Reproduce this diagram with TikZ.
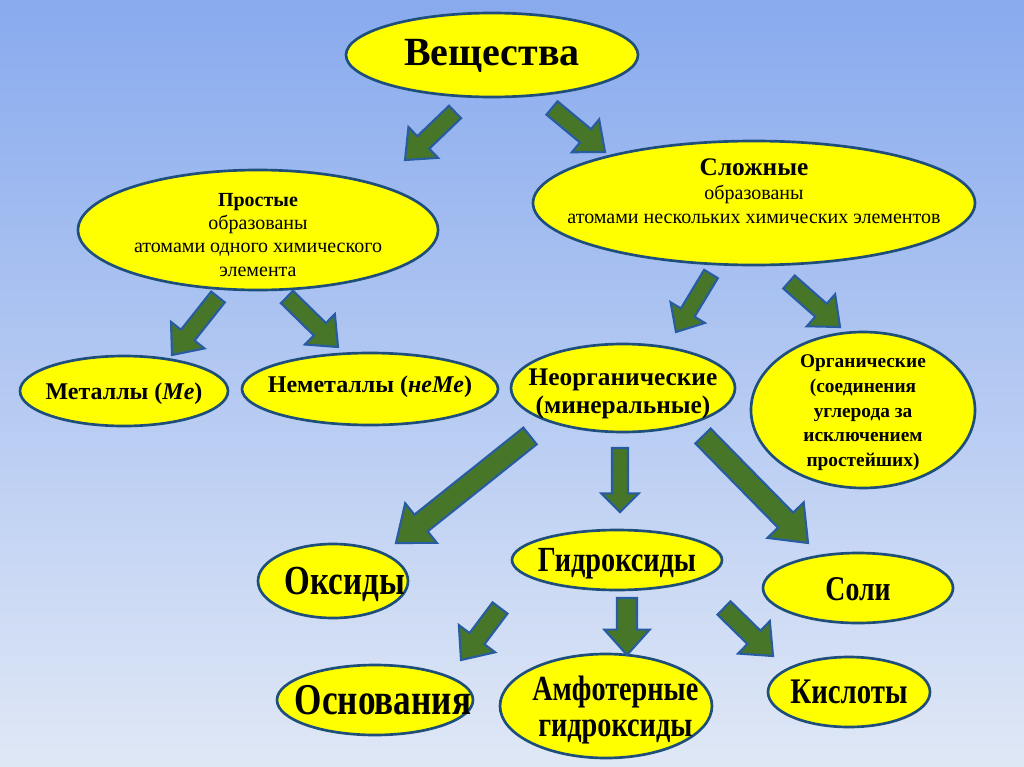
\documentclass[tikz,border=0pt]{standalone}
\usepackage{fontspec}
\setmainfont{Liberation Serif}
\newfontfamily\condfont[FakeStretch=0.8]{Liberation Serif}
\usetikzlibrary{shapes.geometric,calc}
\definecolor{bgtop}{RGB}{136,170,238}
\definecolor{bgbot}{RGB}{224,232,246}
\definecolor{elfill}{RGB}{255,255,0}
\definecolor{eldraw}{RGB}{30,78,122}
\definecolor{arfill}{RGB}{72,118,40}
\definecolor{ardraw}{RGB}{40,92,160}
\tikzset{
  el/.style 2 args={ellipse, draw=eldraw, fill=elfill, line width=2pt, inner sep=0pt,
    minimum width=#1*0.75pt, minimum height=#2*0.75pt},
  lbl/.style={align=center, text=black, inner sep=0pt, label distance=0pt},
  barrowstyle/.style={fill=arfill, draw=ardraw, line width=1.6pt, line join=miter},
}
% #1 tail, #2 tip, #3 shaft half width, #4 head half width, #5 head length (pt)
\newcommand\blockarr[5]{%
  \coordinate (ah) at ($(#2)!#5!(#1)$);
  \draw[barrowstyle] ($(#1)!#3!90:(#2)$) -- ($(ah)!#3!90:(#2)$) -- ($(ah)!#4!90:(#2)$)
     -- (#2) -- ($(ah)!#4!-90:(#2)$) -- ($(ah)!#3!-90:(#2)$) -- ($(#1)!#3!-90:(#2)$) -- cycle;
}
\begin{document}
\begin{tikzpicture}[x=0.75pt,y=-0.75pt]
\shade[top color=bgtop, bottom color=bgbot] (0,0) rectangle (1024,767);
\useasboundingbox (0,0) rectangle (1024,767);

% nodes
\node[el={292}{84}, label={[lbl, font=\fontsize{30}{34}\selectfont\bfseries, yshift=-1pt]center:{Вещества}}] (v) at (492,55) {};
\node[el={360}{120}, label={[lbl, font=\fontsize{15}{17.5}\selectfont, yshift=-3.5pt]center:{\textbf{Простые}\\образованы\\атомами одного химического\\элемента}}] (p) at (258,230) {};
\node[el={442}{124}, label={[lbl, font=\fontsize{15}{18}\selectfont, yshift=8.5pt]center:{\textbf{\fontsize{19}{20}\selectfont Сложные}\\образованы\\атомами нескольких химических элементов}}] (s) at (754,203) {};
\node[el={208}{70}, label={[lbl, font=\fontsize{18}{20}\selectfont\bfseries, yshift=-2pt]center:{Металлы (\textit{Me})}}] (m) at (124,391) {};
\node[el={256}{72}, label={[lbl, font=\fontsize{18}{20}\selectfont\bfseries, yshift=2pt]center:{Неметаллы (\textit{неMe})}}] (n) at (370,389) {};
\node[el={224}{88}, label={[lbl, font=\fontsize{19}{20.5}\selectfont\bfseries, yshift=-4.5pt]center:{Неорганические\\(минеральные)}}] (i) at (623,388) {};
\node[el={224}{156}, label={[lbl, font=\fontsize{14.5}{18.5}\selectfont\bfseries, yshift=-2pt]center:{Органические\\(соединения\\углерода за\\исключением\\простейших)}}] (o) at (863,410) {};
\node[el={150}{74}, label={[lbl, font=\condfont\fontsize{31}{33}\selectfont\bfseries, xshift=9pt, yshift=-2.5pt]center:{Оксиды}}] (ox) at (333,581) {};
\node[el={210}{60}, label={[lbl, font=\condfont\fontsize{26.5}{28}\selectfont\bfseries, yshift=-2.5pt]center:{Гидроксиды}}] (g) at (617,560) {};
\node[el={190}{70}, label={[lbl, font=\condfont\fontsize{26}{28}\selectfont\bfseries, yshift=-1pt]center:{Соли}}] (sl) at (858,588) {};
\node[el={196}{70}, label={[lbl, font=\condfont\fontsize{33}{34}\selectfont\bfseries, xshift=6pt]center:{Основания}}] (os) at (375,700) {};
\node[el={212}{104}, label={[lbl, font=\condfont\fontsize{26.5}{27}\selectfont\bfseries, xshift=7pt, yshift=-3pt]center:{Амфотерные\\гидроксиды}}] (am) at (606,706) {};
\node[el={162}{70}, label={[lbl, font=\condfont\fontsize{27}{29}\selectfont\bfseries]center:{Кислоты}}] (k) at (849,692) {};

% arrow end points
\coordinate (v-p1) at (455,112);  \coordinate (v-p2) at (405,160);
\coordinate (v-s1) at (552,108);  \coordinate (v-s2) at (605,152);
\coordinate (p-m1) at (218,297);  \coordinate (p-m2) at (172,355);
\coordinate (p-n1) at (287,297);  \coordinate (p-n2) at (338,347);
\coordinate (s-i1) at (711,274);  \coordinate (s-i2) at (676,332);
\coordinate (s-o1) at (789,282);  \coordinate (s-o2) at (840,327);
\coordinate (i-ox1) at (530,436); \coordinate (i-ox2) at (396,543);
\coordinate (i-g1) at (620,448);  \coordinate (i-g2) at (620,512);
\coordinate (i-sl1) at (703,436); \coordinate (i-sl2) at (808,543);
\coordinate (g-os1) at (500,608); \coordinate (g-os2) at (461,660);
\coordinate (g-am1) at (627,598); \coordinate (g-am2) at (627,655);
\coordinate (g-k1) at (724,608);  \coordinate (g-k2) at (773,656);

\blockarr{v-p1}{v-p2}{6.5pt}{16pt}{19pt}
\blockarr{v-s1}{v-s2}{6.5pt}{16pt}{19pt}
\blockarr{p-m1}{p-m2}{6.5pt}{16pt}{19pt}
\blockarr{p-n1}{p-n2}{6.5pt}{16pt}{19pt}
\blockarr{s-i1}{s-i2}{6pt}{15pt}{17pt}
\blockarr{s-o1}{s-o2}{6.5pt}{16pt}{19pt}
\blockarr{i-ox1}{i-ox2}{8pt}{19pt}{24pt}
\blockarr{i-g1}{i-g2}{6pt}{14pt}{14pt}
\blockarr{i-sl1}{i-sl2}{8pt}{19pt}{24pt}
\blockarr{g-os1}{g-os2}{7pt}{17pt}{20pt}
\blockarr{g-am1}{g-am2}{7.5pt}{17pt}{19pt}
\blockarr{g-k1}{g-k2}{7pt}{17pt}{20pt}
\end{tikzpicture}
\end{document}
